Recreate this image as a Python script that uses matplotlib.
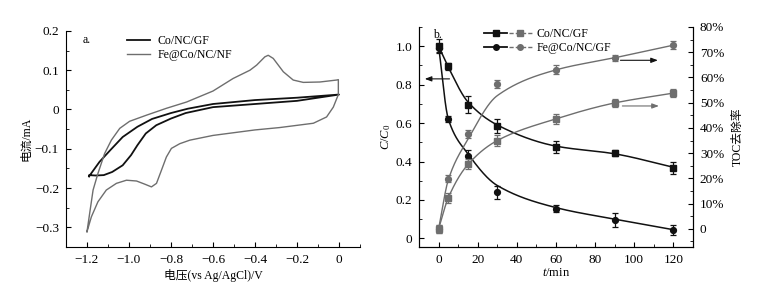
import numpy as np
import matplotlib
matplotlib.use("Agg")
import matplotlib.pyplot as plt
from matplotlib.ticker import MultipleLocator, FuncFormatter
from matplotlib.lines import Line2D
from matplotlib.legend_handler import HandlerTuple

plt.rcParams['font.family'] = ['Liberation Serif', 'Noto Sans CJK SC']
plt.rcParams['axes.unicode_minus'] = True
plt.rcParams['mathtext.fontset'] = 'custom'
plt.rcParams['mathtext.it'] = 'Liberation Serif:italic'
plt.rcParams['mathtext.rm'] = 'Liberation Serif'

# ---------------- Panel a: CV data ----------------
cv_co_v = [-1.19, -1.14, -1.09, -1.03, -0.96, -0.89, -0.80, -0.72, -0.60, -0.40, -0.20, 0.0,
           -0.20, -0.40, -0.60, -0.73, -0.80, -0.87, -0.92, -0.96, -0.99, -1.03, -1.08, -1.12, -1.16, -1.19, -1.19]
cv_co_i = [-0.170, -0.133, -0.104, -0.070, -0.044, -0.024, -0.009, 0.002, 0.014, 0.024, 0.030, 0.038,
           0.022, 0.014, 0.006, -0.009, -0.023, -0.040, -0.061, -0.091, -0.116, -0.142, -0.159, -0.167, -0.168, -0.167, -0.170]

cv_fe_v = [-1.20, -1.171, -1.148, -1.116, -1.084, -1.044, -0.997, -0.917, -0.822, -0.726, -0.60, -0.504,
           -0.424, -0.392, -0.353, -0.337, -0.313, -0.265, -0.218, -0.170, -0.091, -0.011, -0.003,
           -0.003, -0.027, -0.059, -0.122, -0.283, -0.40, -0.60, -0.71, -0.758, -0.798, -0.822, -0.845,
           -0.869, -0.893, -0.925, -0.964, -1.012, -1.060, -1.108, -1.148, -1.179, -1.20]
cv_fe_i = [-0.311, -0.205, -0.163, -0.112, -0.078, -0.048, -0.030, -0.0145, 0.003, 0.019, 0.047, 0.079,
           0.100, 0.113, 0.134, 0.138, 0.130, 0.096, 0.075, 0.069, 0.070, 0.075, 0.076,
           0.038, 0.006, -0.019, -0.035, -0.046, -0.052, -0.066, -0.078, -0.087, -0.099, -0.121, -0.154,
           -0.188, -0.197, -0.190, -0.182, -0.180, -0.188, -0.205, -0.235, -0.273, -0.311]

# ---------------- Panel b data ----------------
t = [0, 5, 15, 30, 60, 90, 120]
c_co = [1.00, 0.895, 0.695, 0.585, 0.475, 0.445, 0.365]
c_co_err = [0.035, 0.02, 0.045, 0.035, 0.03, 0.015, 0.03]
c_fe = [0.99, 0.62, 0.43, 0.24, 0.155, 0.095, 0.045]
c_fe_err = [0.02, 0.015, 0.03, 0.035, 0.02, 0.035, 0.025]
c_co_fit = [1.00, 0.89, 0.71, 0.59, 0.48, 0.44, 0.37]
c_fe_fit = [1.00, 0.62, 0.44, 0.275, 0.16, 0.10, 0.045]

toc_co = [0.0, 12.4, 25.8, 35.0, 43.6, 49.9, 53.8]
toc_co_err = [1.5, 2.0, 2.0, 2.0, 2.0, 1.5, 1.5]
toc_fe = [0.0, 19.9, 37.6, 57.4, 63.0, 67.6, 72.8]
toc_fe_err = [1.5, 1.5, 1.5, 1.5, 1.8, 1.2, 1.5]
toc_co_fit = [0.0, 12.4, 25.5, 35.0, 43.6, 49.9, 53.8]
toc_fe_fit = [0.0, 19.5, 35.5, 52.8, 63.0, 67.8, 72.8]

BLACK = '#111111'
GRAY = '#6e6e6e'


def pchip(x, y, xn):
    x = np.asarray(x, float); y = np.asarray(y, float)
    h = np.diff(x); d = np.diff(y) / h
    n = len(x); m = np.zeros(n)
    for k in range(1, n - 1):
        if d[k - 1] * d[k] > 0:
            w1 = 2 * h[k] + h[k - 1]; w2 = h[k] + 2 * h[k - 1]
            m[k] = (w1 + w2) / (w1 / d[k - 1] + w2 / d[k])
    m[0] = d[0]; m[-1] = d[-1]
    idx = np.clip(np.searchsorted(x, xn) - 1, 0, n - 2)
    hh = h[idx]; s = (xn - x[idx]) / hh
    h00 = 2 * s**3 - 3 * s**2 + 1; h10 = s**3 - 2 * s**2 + s
    h01 = -2 * s**3 + 3 * s**2; h11 = s**3 - s**2
    return h00 * y[idx] + h10 * hh * m[idx] + h01 * y[idx + 1] + h11 * hh * m[idx + 1]


fig = plt.figure(figsize=(7.62, 2.89), dpi=100)
FS = 8.5     # labels / legend
TFS = 9.5    # tick labels

# ---------------- Panel a ----------------
ax1 = fig.add_axes([0.0866, 0.1453, 0.4724 - 0.0866, 0.893 - 0.1453])
ax1.plot(cv_co_v, cv_co_i, color=BLACK, lw=1.3, label='Co/NC/GF')
ax1.plot(cv_fe_v, cv_fe_i, color=GRAY, lw=1.0, label='Fe@Co/NC/NF')
ax1.set_xlim(-1.3, 0.1)
ax1.set_ylim(-0.35, 0.2)
for s in ['top', 'right']:
    ax1.spines[s].set_visible(False)
ax1.xaxis.set_major_locator(MultipleLocator(0.2))
ax1.xaxis.set_minor_locator(MultipleLocator(0.1))
ax1.yaxis.set_major_locator(MultipleLocator(0.1))
ax1.yaxis.set_minor_locator(MultipleLocator(0.05))


def fmt_num(v, pos):
    if abs(v) < 1e-9:
        return '0'
    return ('%.1f' % v).replace('-', '\u2212')


ax1.xaxis.set_major_formatter(FuncFormatter(fmt_num))
ax1.yaxis.set_major_formatter(FuncFormatter(fmt_num))
ax1.tick_params(which='both', direction='in', labelsize=TFS, top=False, right=False)
ax1.tick_params(which='major', length=3.5, pad=5)
ax1.tick_params(which='minor', length=2)
ax1.set_xlabel('电压(vs Ag/AgCl)/V', fontsize=FS, labelpad=2)
ax1.set_ylabel('电流/mA', fontsize=FS, labelpad=2)
ax1.text(0.055, 0.985, 'a.', transform=ax1.transAxes, fontsize=FS, va='top')
ax1.legend(loc='upper left', bbox_to_anchor=(0.17, 1.03), frameon=False, fontsize=FS,
           handlelength=2.0, handletextpad=0.6, labelspacing=0.2)

# ---------------- Panel b ----------------
ax2 = fig.add_axes([0.5499, 0.1453, 0.9094 - 0.5499, 0.9066 - 0.1453])
ax3 = ax2.twinx()
tt = np.linspace(0, 120, 400)

ax2.plot(tt, pchip(t, c_co_fit, tt), color=BLACK, lw=1.1)
ax2.plot(tt, pchip(t, c_fe_fit, tt), color=BLACK, lw=1.1)
ax2.errorbar(t, c_co, yerr=c_co_err, fmt='s', color=BLACK, ms=4.2, capsize=2.2, elinewidth=0.9, capthick=0.9)
ax2.errorbar(t, c_fe, yerr=c_fe_err, fmt='o', color=BLACK, ms=4.2, capsize=2.2, elinewidth=0.9, capthick=0.9)

ax3.plot(tt, pchip(t, toc_co_fit, tt), color=GRAY, lw=1.0)
ax3.plot(tt, pchip(t, toc_fe_fit, tt), color=GRAY, lw=1.0)
ax3.errorbar(t, toc_co, yerr=toc_co_err, fmt='s', color=GRAY, ms=4.2, capsize=2.2, elinewidth=0.9, capthick=0.9)
ax3.errorbar(t, toc_fe, yerr=toc_fe_err, fmt='o', color=GRAY, ms=4.2, capsize=2.2, elinewidth=0.9, capthick=0.9)

ax2.set_xlim(-10, 130)
ax2.set_ylim(-0.045, 1.1)
ax3.set_ylim(-7.2, 80)
for a in (ax2, ax3):
    a.spines['top'].set_visible(False)
ax2.xaxis.set_major_locator(MultipleLocator(20))
ax2.xaxis.set_minor_locator(MultipleLocator(10))
ax2.yaxis.set_major_locator(MultipleLocator(0.2))
ax2.yaxis.set_minor_locator(MultipleLocator(0.1))
ax3.yaxis.set_major_locator(MultipleLocator(10))
ax3.yaxis.set_minor_locator(MultipleLocator(5))
ax2.xaxis.set_major_formatter(FuncFormatter(lambda v, p: '%d' % v))
ax2.yaxis.set_major_formatter(FuncFormatter(fmt_num))
ax3.yaxis.set_major_formatter(FuncFormatter(lambda v, p: '0' if abs(v) < 1e-9 else '%d%%' % v))
for a in (ax2, ax3):
    a.tick_params(which='both', direction='in', labelsize=TFS)
    a.tick_params(which='major', length=3.5, pad=5)
    a.tick_params(which='minor', length=2)
ax2.tick_params(top=False, right=False, which='both')

ax2.set_xlabel('$t$/min', fontsize=FS + 0.5, labelpad=1)
ax2.set_ylabel('$C$/$C_0$', fontsize=FS + 0.5, labelpad=2)
ax3.set_ylabel('TOC去除率', fontsize=FS, labelpad=5)
ax2.text(0.05, 0.99, 'b.', transform=ax2.transAxes, fontsize=FS, va='top')

# arrows
ax2.annotate('', xy=(-8.5, 0.83), xytext=(7, 0.83),
             arrowprops=dict(arrowstyle='-|>,head_length=0.4,head_width=0.15', color=BLACK, lw=0.8))
ax3.annotate('', xy=(113.5, 66.8), xytext=(91.5, 66.8),
             arrowprops=dict(arrowstyle='-|>,head_length=0.4,head_width=0.15', color=BLACK, lw=0.8))
ax3.annotate('', xy=(114, 48.7), xytext=(92.5, 48.7),
             arrowprops=dict(arrowstyle='-|>,head_length=0.4,head_width=0.15', color=GRAY, lw=0.8))

# legend
h1 = (Line2D([], [], color=BLACK, marker='s', ms=4, lw=1.3),
      Line2D([], [], color=GRAY, marker='s', ms=4, lw=1.0, ls=(0, (3, 1.5))))
h2 = (Line2D([], [], color=BLACK, marker='o', ms=4, lw=1.3),
      Line2D([], [], color=GRAY, marker='o', ms=4, lw=1.0, ls=(0, (3, 1.5))))
ax2.legend([h1, h2], ['Co/NC/GF', 'Fe@Co/NC/GF'], loc='upper left', bbox_to_anchor=(0.2, 1.045),
           frameon=False, fontsize=FS, handlelength=4.0, handletextpad=0.4, labelspacing=0.2,
           handler_map={tuple: HandlerTuple(ndivide=None, pad=0.15)})

fig.savefig('out.png', dpi=100)
